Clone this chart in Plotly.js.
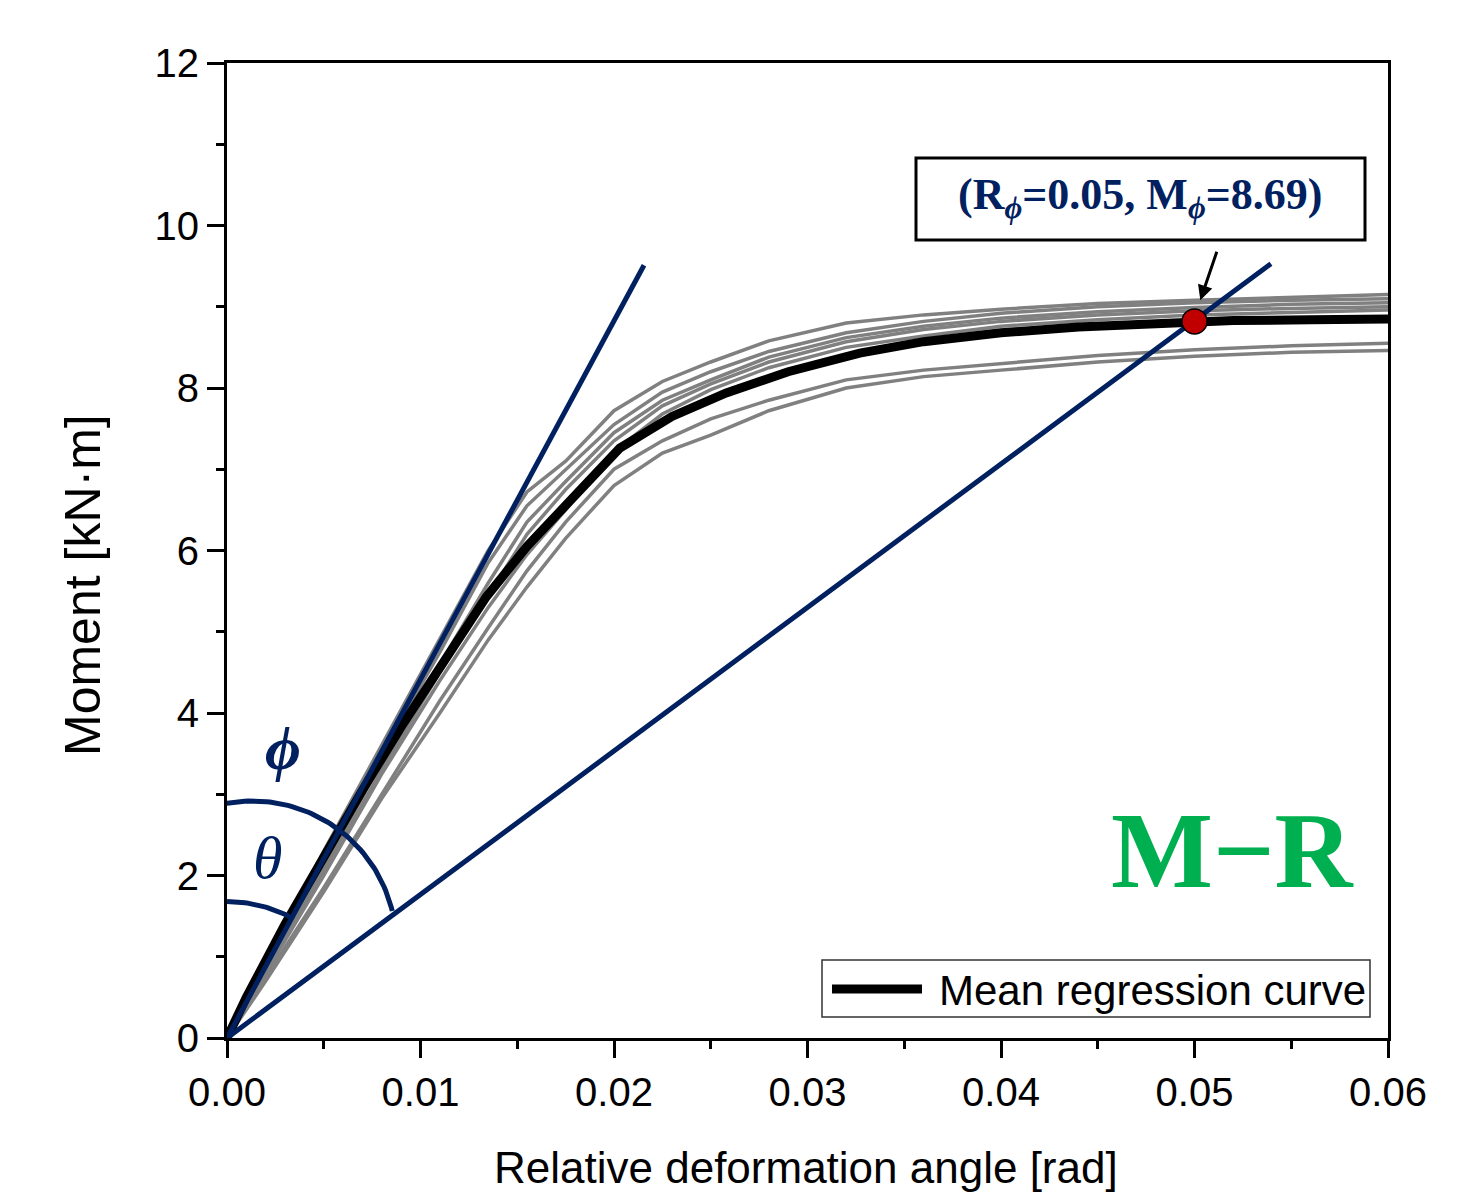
<!DOCTYPE html>
<html>
<head>
<meta charset="utf-8">
<script src="https://cdn.plot.ly/plotly-3.0.1.min.js"></script>
<style>html,body{margin:0;padding:0;background:#fff;}#chart{width:1475px;height:1197px;}</style>
</head>
<body>
<div id="chart"></div>
<script>
// ---- Data ----
const R_mean = [0, 0.001, 0.003, 0.005, 0.007, 0.009, 0.0115, 0.0134, 0.0155, 0.0177, 0.0203, 0.023, 0.0258, 0.029, 0.0327, 0.036, 0.040, 0.044, 0.048, 0.052, 0.056, 0.060];
const M_mean = [0, 0.50, 1.40, 2.25, 3.05, 3.83, 4.75, 5.43, 6.05, 6.62, 7.26, 7.65, 7.94, 8.20, 8.43, 8.57, 8.68, 8.75, 8.80, 8.83, 8.84, 8.85];

const R_test = [0, 0.002, 0.005, 0.008, 0.011, 0.0135, 0.0155, 0.0175, 0.020, 0.0225, 0.025, 0.028, 0.032, 0.036, 0.040, 0.045, 0.050, 0.055, 0.060];
const M_test1 = [0, 0.95, 2.30, 3.60, 4.90, 6.00, 6.72, 7.10, 7.72, 8.08, 8.32, 8.58, 8.80, 8.90, 8.97, 9.04, 9.08, 9.12, 9.15];
const M_test2 = [0, 0.90, 2.20, 3.50, 4.75, 5.85, 6.55, 7.00, 7.55, 7.95, 8.20, 8.45, 8.68, 8.82, 8.92, 9.00, 9.05, 9.08, 9.10];
const M_test3 = [0, 0.85, 2.10, 3.40, 4.60, 5.60, 6.35, 6.85, 7.45, 7.85, 8.10, 8.38, 8.62, 8.76, 8.86, 8.94, 8.99, 9.03, 9.05];
const M_test4 = [0, 0.80, 2.05, 3.30, 4.50, 5.45, 6.20, 6.75, 7.35, 7.78, 8.05, 8.32, 8.57, 8.72, 8.82, 8.90, 8.95, 8.98, 9.00];
const M_test5 = [0, 0.80, 2.00, 3.25, 4.40, 5.30, 5.95, 6.50, 7.22, 7.68, 7.98, 8.25, 8.50, 8.64, 8.76, 8.84, 8.90, 8.93, 8.96];
const M_test6 = [0, 0.75, 1.85, 3.00, 4.15, 5.05, 5.75, 6.35, 7.00, 7.35, 7.62, 7.85, 8.10, 8.22, 8.30, 8.40, 8.47, 8.52, 8.55];
const M_test7 = [0, 0.70, 1.80, 2.95, 4.00, 4.90, 5.55, 6.15, 6.80, 7.20, 7.42, 7.72, 8.00, 8.14, 8.22, 8.32, 8.39, 8.44, 8.46];

const R_tangent = [0, 0.02155];
const M_tangent = [0, 9.51];
const R_secant = [0, 0.05395];
const M_secant = [0, 9.53];

const R_point = [0.05];
const M_point = [8.82];

const xTickVals = [0, 0.01, 0.02, 0.03, 0.04, 0.05, 0.06];
const xTickText = ['0.00', '0.01', '0.02', '0.03', '0.04', '0.05', '0.06'];
const yTickVals = [0, 2, 4, 6, 8, 10, 12];
const yTickText = ['0', '2', '4', '6', '8', '10', '12'];

// ---- Layout geometry ----
const W = 1475, H = 1197;
const L = 227, Rm = 87, T = 63, B = 159;
const plotW = W - L - Rm, plotH = H - T - B;
const xMax = 0.06, yMax = 12;
const NAVY = '#002060', GREY = '#808080', GREEN = '#00b050';

// helper: arc given in screen pixels relative to origin -> data coords
function arc(cxPx, cyPx, rPx, a0, a1, n) {
  const xs = [], ys = [];
  for (let i = 0; i <= n; i++) {
    const a = (a0 + (a1 - a0) * i / n) * Math.PI / 180;
    const px = cxPx + rPx * Math.cos(a);
    const py = cyPx + rPx * Math.sin(a);
    xs.push(px * xMax / plotW);
    ys.push(py * yMax / plotH);
  }
  return {xs, ys};
}
const phiArc = arc(25.7, 93.5, 143.5, 100.5, 13.5, 60);
const thetaArc = arc(0, 0, 136.5, 90, 62.5, 40);

const greys = [M_test1, M_test2, M_test3, M_test4, M_test5, M_test6, M_test7];
const traces = greys.map(m => ({
  x: R_test, y: m, type: 'scatter', mode: 'lines',
  line: {color: GREY, width: 3.5}, showlegend: false, hoverinfo: 'skip'
}));
traces.push({x: R_mean, y: M_mean, type: 'scatter', mode: 'lines', name: 'Mean regression curve',
  line: {color: '#000000', width: 9}, showlegend: false});
traces.push({x: R_tangent, y: M_tangent, type: 'scatter', mode: 'lines', line: {color: NAVY, width: 5}, showlegend: false});
traces.push({x: R_secant, y: M_secant, type: 'scatter', mode: 'lines', line: {color: NAVY, width: 5}, showlegend: false});
traces.push({x: phiArc.xs, y: phiArc.ys, type: 'scatter', mode: 'lines', line: {color: NAVY, width: 5}, showlegend: false});
traces.push({x: thetaArc.xs, y: thetaArc.ys, type: 'scatter', mode: 'lines', line: {color: NAVY, width: 5}, showlegend: false});
traces.push({x: R_point, y: M_point, type: 'scatter', mode: 'markers', showlegend: false,
  marker: {color: '#c00000', size: 25, line: {color: '#000000', width: 1.5}}});

const SANS = '"Liberation Sans", Arial, sans-serif';
const SERIF = '"Liberation Serif", "Times New Roman", serif';
const tickFont = {family: SANS, size: 40, color: '#000'};

function px2paperX(px) { return (px - L) / plotW; }
function px2paperY(py) { return (H - B - py) / plotH; }

const layout = {
  width: W, height: H,
  margin: {l: L, r: Rm, t: T, b: B, pad: 0},
  paper_bgcolor: '#fff', plot_bgcolor: '#fff',
  showlegend: false,
  xaxis: {
    range: [0, xMax], showgrid: false, zeroline: false,
    showline: true, linecolor: '#000', linewidth: 3, mirror: true,
    ticks: 'outside', ticklen: 17, tickwidth: 3, tickcolor: '#000',
    tickvals: xTickVals, ticktext: xTickText, tickfont: tickFont,
    minor: {dtick: 0.005, ticks: 'outside', ticklen: 8, tickwidth: 3, tickcolor: '#000', showgrid: false}
  },
  yaxis: {
    range: [0, yMax], showgrid: false, zeroline: false,
    showline: true, linecolor: '#000', linewidth: 3, mirror: true,
    ticks: 'outside', ticklen: 17, tickwidth: 3, tickcolor: '#000',
    tickvals: yTickVals, ticktext: yTickText, tickfont: tickFont,
    minor: {dtick: 1, ticks: 'outside', ticklen: 8, tickwidth: 3, tickcolor: '#000', showgrid: false}
  },
  shapes: [
    // annotation box
    {type: 'rect', xref: 'paper', yref: 'paper', x0: px2paperX(916), x1: px2paperX(1365), y0: px2paperY(240), y1: px2paperY(158),
     line: {color: '#000', width: 3}, fillcolor: '#fff', layer: 'above'},
    // legend box
    {type: 'rect', xref: 'paper', yref: 'paper', x0: px2paperX(822), x1: px2paperX(1370), y0: px2paperY(1017), y1: px2paperY(960),
     line: {color: '#333', width: 1.5}, fillcolor: '#fff', layer: 'above'},
    {type: 'line', xref: 'paper', yref: 'paper', x0: px2paperX(832), x1: px2paperX(922), y0: px2paperY(989), y1: px2paperY(989),
     line: {color: '#000', width: 9}, layer: 'above'}
  ],
  annotations: [
    {xref: 'paper', yref: 'paper', x: px2paperX(1140), y: px2paperY(198), xanchor: 'center', yanchor: 'middle', showarrow: false,
     text: '<b>(R<sub><i>ϕ</i></sub>=0.05, M<sub><i>ϕ</i></sub>=8.69)</b>',
     font: {family: SERIF, size: 44, color: NAVY}},
    {xref: 'x', yref: 'y', x: 0.0503, y: 9.08, ax: 17, ay: -50, showarrow: true, arrowhead: 2, arrowsize: 1, arrowwidth: 3, arrowcolor: '#000', text: ''},
    {xref: 'paper', yref: 'paper', x: px2paperX(937), y: px2paperY(990), xanchor: 'left', yanchor: 'middle', showarrow: false,
     text: 'Mean regression curve', font: {family: SANS, size: 42, color: '#000'}},
    {xref: 'paper', yref: 'paper', x: px2paperX(1232), y: px2paperY(850), xanchor: 'center', yanchor: 'middle', showarrow: false,
     text: '<b>M−R</b>', font: {family: SERIF, size: 108, color: GREEN}},
    {xref: 'paper', yref: 'paper', x: px2paperX(283), y: px2paperY(748), xanchor: 'center', yanchor: 'middle', showarrow: false,
     text: '<b><i>ϕ</i></b>', font: {family: SERIF, size: 62, color: NAVY}},
    {xref: 'paper', yref: 'paper', x: px2paperX(267), y: px2paperY(858), xanchor: 'center', yanchor: 'middle', showarrow: false,
     text: '<i>θ</i>', font: {family: SERIF, size: 60, color: NAVY}},
    {xref: 'paper', yref: 'paper', x: px2paperX(83), y: px2paperY(585), xanchor: 'center', yanchor: 'middle', showarrow: false, textangle: -90,
     text: 'Moment [kN·m]', font: {family: SANS, size: 50, color: '#000'}},
    {xref: 'paper', yref: 'paper', x: px2paperX(806), y: px2paperY(1167), xanchor: 'center', yanchor: 'middle', showarrow: false,
     text: 'Relative deformation angle [rad]', font: {family: SANS, size: 44, color: '#000'}}
  ]
};

Plotly.newPlot('chart', traces, layout, {staticPlot: true, displayModeBar: false});
</script>
</body>
</html>
